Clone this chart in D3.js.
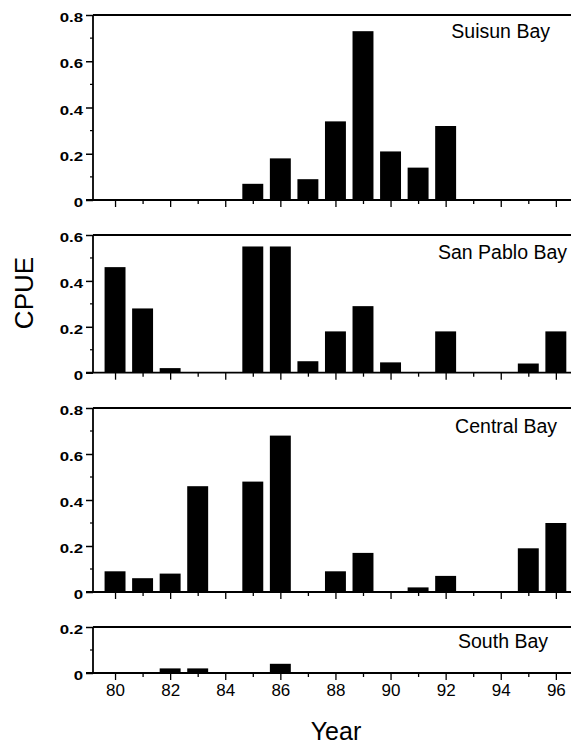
<!DOCTYPE html>
<html><head><meta charset="utf-8">
<script src="https://cdn.jsdelivr.net/npm/d3@7"></script>
<style>body{margin:0;background:#fff}svg{display:block}</style>
</head><body>
<script>
const years = [80,81,82,83,84,85,86,87,88,89,90,91,92,93,94,95,96];
const suisun   = [0,0,0,0,0,0.07,0.18,0.09,0.34,0.73,0.21,0.14,0.32,0,0,0,0];
const sanPablo = [0.46,0.28,0.02,0,0,0.55,0.55,0.05,0.18,0.29,0.045,0,0.18,0,0,0.04,0.18];
const central  = [0.09,0.06,0.08,0.46,0,0.48,0.68,0,0.09,0.17,0,0.02,0.07,0,0,0.19,0.30];
const south    = [0,0,0.02,0.02,0,0,0.04,0,0,0,0,0,0,0,0,0,0];
const panelNames = ["Suisun Bay","San Pablo Bay","Central Bay","South Bay"];
const panelMax = [0.8,0.6,0.8,0.2];
const xTickLabels = [80,82,84,86,88,90,92,94,96];
const yLabel = "CPUE", xLabel = "Year";

const W = 571, H = 747;
const svg = d3.select("body").append("svg").attr("width",W).attr("height",H);
const x = d3.scaleLinear().domain([79.2,96.55]).range([93,571]);
const layout = [
  {top:15, bottom:200, lx:550, ly:38},
  {top:235, bottom:372.7, lx:567, ly:259},
  {top:408, bottom:592, lx:557, ly:433},
  {top:627, bottom:673, lx:548, ly:648}
];
const series = [suisun,sanPablo,central,south];
const halfW = 0.38;
const font = "'Liberation Sans', Arial, sans-serif";

series.forEach((vals,i)=>{
  const L = layout[i];
  const y = d3.scaleLinear().domain([0,panelMax[i]]).range([L.bottom,L.top]);
  const g = svg.append("g");
  g.selectAll("rect").data(years.map((yr,j)=>({yr,v:vals[j]})).filter(d=>d.v>0))
    .enter().append("rect")
    .attr("x",d=>x(d.yr-halfW)).attr("width",d=>x(d.yr+halfW)-x(d.yr-halfW))
    .attr("y",d=>y(d.v)).attr("height",d=>y(0)-y(d.v)).attr("fill","#000");
  g.append("line").attr("x1",x.range()[0]).attr("x2",W).attr("y1",L.top).attr("y2",L.top)
    .attr("stroke","#000").attr("stroke-width",1.8);
  g.append("line").attr("x1",x.range()[0]).attr("x2",x.range()[0]).attr("y1",L.top).attr("y2",L.bottom)
    .attr("stroke","#000").attr("stroke-width",1.8);
  const nMaj = Math.round(panelMax[i]/0.2);
  const major = d3.range(0,nMaj+1).map(k=>k*0.2);
  const minor = d3.range(0,nMaj).map(k=>k*0.2+0.1);
  const ya = d3.axisLeft(y).tickValues(major).tickSize(7).tickPadding(3)
    .tickFormat(d=> d===0 ? "0" : d3.format(".1f")(d));
  const yg = g.append("g").attr("transform",`translate(${x.range()[0]},0)`).call(ya);
  yg.select(".domain").remove();
  yg.selectAll("line").attr("stroke-width",1.5);
  yg.selectAll("text").attr("font-family",font).attr("font-size",12).attr("font-weight","bold")
    .attr("dy","0.55em")
    .each(function(){ const len=this.getComputedTextLength(); d3.select(this).attr("textLength",len*1.4).attr("lengthAdjust","spacingAndGlyphs"); });
  g.selectAll(".mt").data(minor).enter().append("line")
    .attr("x1",x.range()[0]-3).attr("x2",x.range()[0]).attr("y1",d=>y(d)).attr("y2",d=>y(d))
    .attr("stroke","#000").attr("stroke-width",1.2);
  const xa = d3.axisBottom(x).tickValues(years).tickSize(0)
    .tickFormat(d=> (i===3 && xTickLabels.includes(d)) ? d : "");
  const xg = g.append("g").attr("transform",`translate(0,${L.bottom})`).call(xa);
  xg.select(".domain").attr("d",`M${x.range()[0]-7},0H${W}`).attr("stroke-width",1.8);
  xg.selectAll(".tick line").attr("y2",d=>d%2===0?7:4).attr("stroke-width",1.3);
  xg.selectAll("text").attr("font-family",font).attr("font-size",17).attr("dy","1.2em");
  g.append("text").attr("x",L.lx).attr("y",L.ly).attr("text-anchor","end")
    .attr("font-family",font).attr("font-size",19.5).text(panelNames[i]);
});

svg.append("text").attr("transform","translate(33,293) rotate(-90)").attr("text-anchor","middle")
  .attr("font-family",font).attr("font-size",26).text(yLabel);
svg.append("text").attr("x",336).attr("y",740).attr("text-anchor","middle")
  .attr("font-family",font).attr("font-size",25).text(xLabel);
</script>
</body></html>
